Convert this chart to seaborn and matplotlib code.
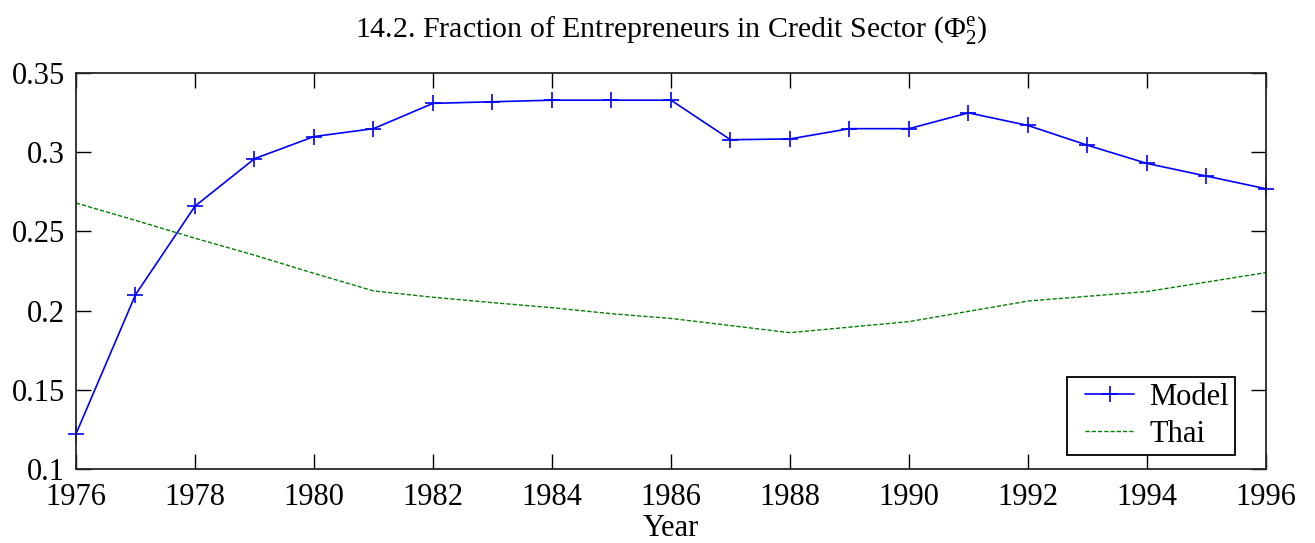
import pandas as pd
import matplotlib
matplotlib.use("Agg")
import matplotlib.pyplot as plt
from matplotlib.legend_handler import HandlerLine2D
import seaborn as sns

# --- data ---
YEARS = list(range(1976, 1997))
MODEL = [0.122, 0.210, 0.266, 0.296, 0.310, 0.315, 0.331, 0.332, 0.333, 0.333, 0.333,
         0.308, 0.3085, 0.315, 0.315, 0.325, 0.317, 0.3045, 0.293, 0.285, 0.277]
THAI = [0.268, 0.257, 0.2457, 0.235, 0.2235, 0.2124, 0.2084, 0.205, 0.2018, 0.198, 0.195,
        0.1905, 0.186, 0.1895, 0.193, 0.1995, 0.206, 0.209, 0.212, 0.218, 0.224]
X_TICKS = list(range(1976, 1997, 2))
Y_TICKS = [0.1, 0.15, 0.2, 0.25, 0.3, 0.35]
Y_LABELS = ["0.1", "0.15", "0.2", "0.25", "0.3", "0.35"]

sns.set_style("ticks")
plt.rcParams['font.family'] = ['Liberation Serif', 'DejaVu Serif']
plt.rcParams['text.color'] = 'black'
plt.rcParams['axes.labelcolor'] = 'black'
plt.rcParams['mathtext.fontset'] = 'custom'
plt.rcParams['mathtext.rm'] = 'Liberation Serif'
plt.rcParams['mathtext.it'] = 'Liberation Serif:italic'

df = pd.DataFrame({'Year': YEARS, 'Model': MODEL, 'Thai': THAI})
long = df.melt(id_vars='Year', var_name='series', value_name='value')

fig = plt.figure(figsize=(13.15, 5.43), dpi=100)
ax = fig.add_axes([76 / 1315, 1 - 468.7 / 543, (1266 - 76) / 1315, (468.7 - 73.3) / 543])

blue = (0, 0, 1)
green = (0, 0.5, 0)
sns.lineplot(data=long[long.series == 'Model'], x='Year', y='value', ax=ax,
             color=blue, lw=1.2, marker='+', markersize=12, markeredgewidth=1.2,
             markeredgecolor=blue, label='Model', clip_on=False)
sns.lineplot(data=long[long.series == 'Thai'], x='Year', y='value', ax=ax,
             color=green, lw=1.0, label='Thai')
ax.lines[-1].set_linestyle((0, (3, 1.5)))

ax.set_xlim(1976, 1996)
ax.set_ylim(0.1, 0.35)
ax.set_xticks(X_TICKS)
ax.set_yticks(Y_TICKS)
ax.set_yticklabels(Y_LABELS)
ax.tick_params(direction='in', length=11, width=1, top=True, right=True,
               labelsize=22, colors='black')
ax.tick_params(axis='x', pad=10.5)
ax.tick_params(axis='y', pad=8)
for s in ax.spines.values():
    s.set_linewidth(1.3)
    s.set_visible(True)

ax.set_xlabel('Year', fontsize=22, labelpad=1)
ax.set_ylabel('')
ax.set_title(r'14.2. Fraction of Entrepreneurs in Credit Sector ($\Phi_2^{\mathrm{e}}$)',
             fontsize=21.5, pad=26)

leg = ax.legend(loc='lower right', bbox_to_anchor=(0.974, 0.035), borderaxespad=0,
                fontsize=22, frameon=True, fancybox=False, edgecolor='black',
                framealpha=1, handlelength=2.0, handletextpad=0.5, borderpad=0.2,
                labelspacing=0.25,
                handler_map={l: HandlerLine2D(xpad=0.4) for l in ax.get_lines()})
leg.get_frame().set_linewidth(1.3)

fig.savefig('out.png', dpi=100)
